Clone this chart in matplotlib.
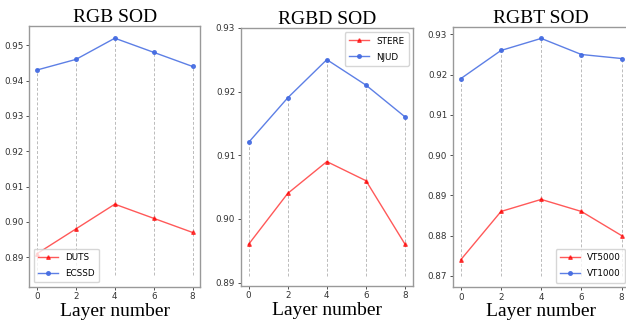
import matplotlib
matplotlib.use("Agg")
import matplotlib.pyplot as plt

# layer index on the x axis
layers = [0, 2, 4, 6, 8]

# RGB SOD
duts = [0.891, 0.898, 0.905, 0.901, 0.897]
ecssd = [0.943, 0.946, 0.952, 0.948, 0.944]

# RGBD SOD
stere = [0.896, 0.904, 0.909, 0.906, 0.896]
njud = [0.912, 0.919, 0.925, 0.921, 0.916]

# RGBT SOD
vt5000 = [0.874, 0.886, 0.889, 0.886, 0.880]
vt1000 = [0.919, 0.926, 0.929, 0.925, 0.924]

titles = ["RGB SOD", "RGBD SOD", "RGBT SOD"]
names = [("DUTS", "ECSSD"), ("STERE", "NJUD"), ("VT5000", "VT1000")]
lows = [duts, stere, vt5000]
highs = [ecssd, njud, vt1000]
ylims = [(0.8816, 0.9555), (0.8895, 0.93), (0.8672, 0.9318)]
ytick_sets = [[0.89, 0.90, 0.91, 0.92, 0.93, 0.94, 0.95],
              [0.89, 0.90, 0.91, 0.92, 0.93],
              [0.87, 0.88, 0.89, 0.90, 0.91, 0.92, 0.93]]
dash_bottoms = [0.885, 0.891, 0.870]
legend_locs = ["lower left", "upper right", "lower right"]
# the right panel runs past the figure edge, as in the original
boxes = [[0.0468, 0.112, 0.2732, 0.808],
         [0.3845, 0.115, 0.2752, 0.799],
         [0.7232, 0.111, 0.2827, 0.805]]

fig = plt.figure(figsize=(6.26, 3.23), dpi=100)

for i in range(3):
    ax = fig.add_axes(boxes[i])
    ax.vlines(layers, dash_bottoms[i], highs[i], colors="#bbbbbb",
              linestyles=(0, (3, 2)), linewidth=0.7, zorder=1)
    ax.plot(layers, lows[i], color="red", alpha=0.65, marker="^",
            markersize=2.6, linewidth=1.0, label=names[i][0], zorder=3)
    ax.plot(layers, highs[i], color="royalblue", alpha=0.85, marker="o",
            markersize=2.6, linewidth=1.0, label=names[i][1], zorder=3)
    ax.set_xlim(-0.4, 8.4)
    ax.set_ylim(*ylims[i])
    ax.set_xticks(layers)
    ax.set_yticks(ytick_sets[i])
    ax.set_yticklabels([f"{v:.2f}" for v in ytick_sets[i]])
    ax.tick_params(labelsize=6.3, colors="#333333", length=2, width=0.6,
                   pad=2)
    for s in ax.spines.values():
        s.set_color("#999999")
        s.set_linewidth(1.0)
    ax.set_title(titles[i], fontsize=14, family="Liberation Serif", pad=3)
    ax.set_xlabel("Layer number", fontsize=14, family="Liberation Serif",
                  labelpad=1)
    ax.legend(loc=legend_locs[i], fontsize=6.3, handlelength=2.3,
              labelspacing=0.8, borderpad=0.5)

fig.savefig("out.png", dpi=100)
